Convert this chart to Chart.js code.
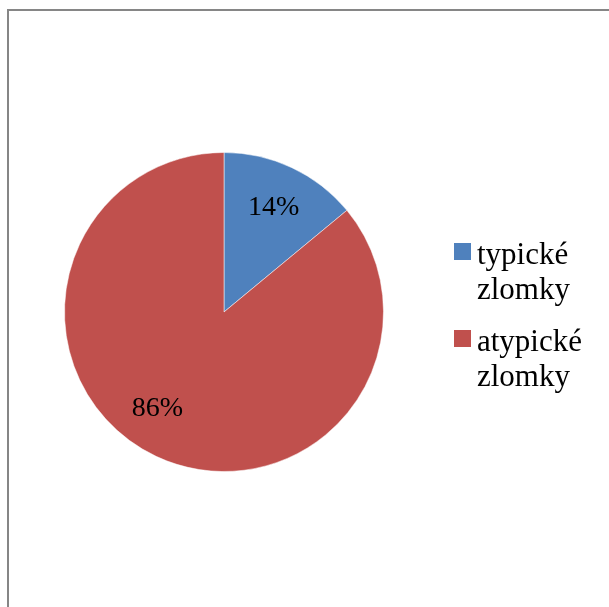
<!DOCTYPE html>
<html>
<head>
<meta charset="utf-8">
<script src="https://cdn.jsdelivr.net/npm/chart.js@4/dist/chart.umd.min.js"></script>
<style>
  html, body { margin: 0; padding: 0; background: #fff; }
  #wrap { width: 609px; height: 607px; position: relative; }
</style>
</head>
<body>
<div id="wrap"><canvas id="pie-chart"></canvas></div>
<script>
const categories = ["typické zlomky", "atypické zlomky"];
const shares = [14, 86];
const sliceColors = ["#4F81BD", "#C0504D"];

const pie_chart = document.getElementById("pie-chart");
const serif = "'Liberation Serif', 'Times New Roman', serif";

// frame around the chart (only top and left edges are visible in the picture)
const framePlugin = {
    id: "frame",
    beforeDraw(chart) {
        let ctx = chart.ctx;
        ctx.save();
        ctx.strokeStyle = "#868686";
        ctx.lineWidth = 2;
        ctx.strokeRect(8, 10, 700, 700);
        ctx.restore();
    }
};

// percentage labels inside the slices
const labelPlugin = {
    id: "pctLabels",
    afterDatasetsDraw(chart) {
        let ctx = chart.ctx;
        let meta = chart.getDatasetMeta(0);
        let shift = [0, 0.17];
        ctx.save();
        ctx.font = "28px " + serif;
        ctx.fillStyle = "#000";
        ctx.textAlign = "center";
        ctx.textBaseline = "middle";
        meta.data.forEach((arc, i) => {
            let p = arc.getProps(["x", "y", "startAngle", "endAngle", "outerRadius"], true);
            let mid = (p.startAngle + p.endAngle) / 2 + shift[i];
            let r = p.outerRadius * 0.73;
            ctx.fillText(shares[i] + "%", p.x + Math.cos(mid) * r, p.y + Math.sin(mid) * r + 1);
        });
        ctx.restore();
    }
};

// legend on the right, each label wrapped on two lines
const legendPlugin = {
    id: "sideLegend",
    afterDraw(chart) {
        let ctx = chart.ctx;
        let area = chart.chartArea;
        let x = area.right + 70;
        let y = 243;
        ctx.save();
        ctx.font = "31px " + serif;
        ctx.textBaseline = "alphabetic";
        ctx.textAlign = "left";
        chart.data.labels.forEach((label, i) => {
            ctx.fillStyle = sliceColors[i];
            ctx.fillRect(x, y, 17, 17);
            ctx.fillStyle = "#000";
            let words = label.split(" ");
            words.forEach((w, j) => {
                ctx.fillText(w, x + 23, y + 21 + j * 35);
            });
            y += 87;
        });
        ctx.restore();
    }
};

let myChart = new Chart(pie_chart, {
    type: 'pie',
    data: {
        labels: categories,
        datasets: [{
            data: shares,
            backgroundColor: sliceColors,
            borderColor: "rgba(255,255,255,0.5)",
            borderWidth: 1
        }]
    },
    options: {
        responsive: true,
        maintainAspectRatio: false,
        animation: false,
        layout: {
            padding: { left: 64, right: 225, top: 152, bottom: 135 }
        },
        plugins: {
            legend: { display: false },
            tooltip: { enabled: false }
        }
    },
    plugins: [framePlugin, labelPlugin, legendPlugin]
});
</script>
</body>
</html>
